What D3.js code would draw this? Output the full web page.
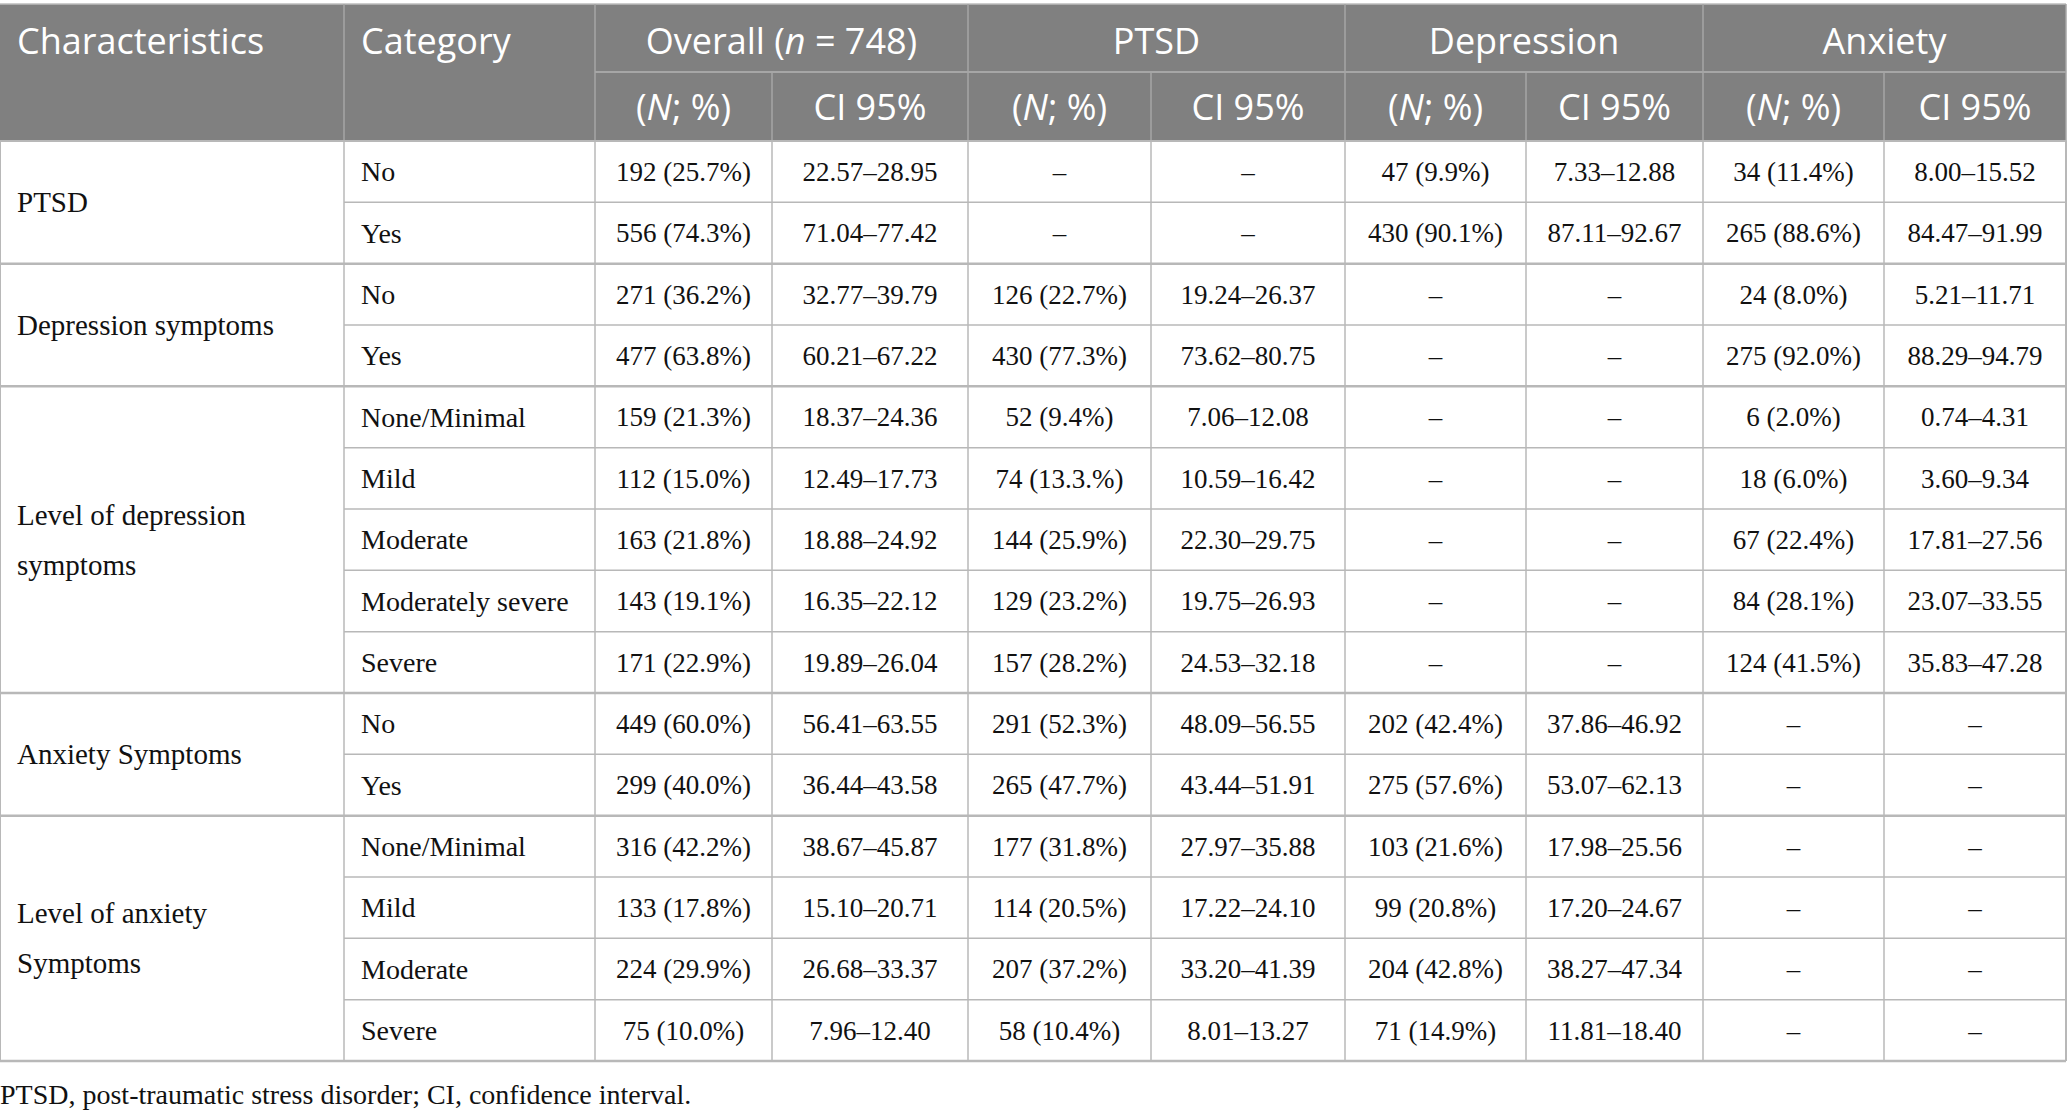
<!DOCTYPE html>
<html>
<head>
<meta charset="utf-8">
<script src="https://cdn.jsdelivr.net/npm/d3@7"></script>
<style>
  html, body { margin: 0; padding: 0; background: #fff; }
  svg { display: block; }
</style>
</head>
<body>
<div id="table"></div>
<script>
// table content
const groupLabels = [
  ["PTSD"],
  ["Depression symptoms"],
  ["Level of depression", "symptoms"],
  ["Anxiety Symptoms"],
  ["Level of anxiety", "Symptoms"]
];
const groupSizes = [2, 2, 5, 2, 4];
const categories = [
  "No", "Yes",
  "No", "Yes",
  "None/Minimal", "Mild", "Moderate", "Moderately severe", "Severe",
  "No", "Yes",
  "None/Minimal", "Mild", "Moderate", "Severe"
];
const overallN = ["192 (25.7%)", "556 (74.3%)", "271 (36.2%)", "477 (63.8%)", "159 (21.3%)", "112 (15.0%)", "163 (21.8%)", "143 (19.1%)", "171 (22.9%)", "449 (60.0%)", "299 (40.0%)", "316 (42.2%)", "133 (17.8%)", "224 (29.9%)", "75 (10.0%)"];
const overallCI = ["22.57–28.95", "71.04–77.42", "32.77–39.79", "60.21–67.22", "18.37–24.36", "12.49–17.73", "18.88–24.92", "16.35–22.12", "19.89–26.04", "56.41–63.55", "36.44–43.58", "38.67–45.87", "15.10–20.71", "26.68–33.37", "7.96–12.40"];
const ptsdN = ["–", "–", "126 (22.7%)", "430 (77.3%)", "52 (9.4%)", "74 (13.3.%)", "144 (25.9%)", "129 (23.2%)", "157 (28.2%)", "291 (52.3%)", "265 (47.7%)", "177 (31.8%)", "114 (20.5%)", "207 (37.2%)", "58 (10.4%)"];
const ptsdCI = ["–", "–", "19.24–26.37", "73.62–80.75", "7.06–12.08", "10.59–16.42", "22.30–29.75", "19.75–26.93", "24.53–32.18", "48.09–56.55", "43.44–51.91", "27.97–35.88", "17.22–24.10", "33.20–41.39", "8.01–13.27"];
const depN = ["47 (9.9%)", "430 (90.1%)", "–", "–", "–", "–", "–", "–", "–", "202 (42.4%)", "275 (57.6%)", "103 (21.6%)", "99 (20.8%)", "204 (42.8%)", "71 (14.9%)"];
const depCI = ["7.33–12.88", "87.11–92.67", "–", "–", "–", "–", "–", "–", "–", "37.86–46.92", "53.07–62.13", "17.98–25.56", "17.20–24.67", "38.27–47.34", "11.81–18.40"];
const anxN = ["34 (11.4%)", "265 (88.6%)", "24 (8.0%)", "275 (92.0%)", "6 (2.0%)", "18 (6.0%)", "67 (22.4%)", "84 (28.1%)", "124 (41.5%)", "–", "–", "–", "–", "–", "–"];
const anxCI = ["8.00–15.52", "84.47–91.99", "5.21–11.71", "88.29–94.79", "0.74–4.31", "3.60–9.34", "17.81–27.56", "23.07–33.55", "35.83–47.28", "–", "–", "–", "–", "–", "–"];
const groupHeaders = ["Overall", "PTSD", "Depression", "Anxiety"];
const subHeaders = ["(N; %)", "CI 95%"];
const footnote = "PTSD, post-traumatic stress disorder; CI, confidence interval.";

const width = 2067, height = 1114;
const headTop = 4, headMid = 72, headBottom = 141, bodyBottom = 1061;
const colEdges = [0, 344, 595, 772, 968, 1151, 1345, 1526, 1703, 1884, 2066];
const gridColor = "#b8b8b8";
const headLine = "#a6a6a6";
const sansFont = "'Open Sans', 'Noto Sans', sans-serif";
const serifFont = "'Liberation Serif', 'DejaVu Serif', serif";

const valueCols = [overallN, overallCI, ptsdN, ptsdCI, depN, depCI, anxN, anxCI];

const svg = d3.select("#table").append("svg")
  .attr("width", width)
  .attr("height", height);

const y = d3.scaleBand()
  .domain(d3.range(categories.length))
  .range([headBottom, bodyBottom]);

const colX = d3.scaleOrdinal()
  .domain(d3.range(colEdges.length))
  .range(colEdges);

// header background
svg.append("rect")
  .attr("x", 0).attr("y", headTop)
  .attr("width", colEdges[10]).attr("height", headBottom - headTop)
  .attr("fill", "#808080");

svg.append("line")
  .attr("x1", 0).attr("x2", colEdges[10])
  .attr("y1", headTop).attr("y2", headTop)
  .attr("stroke", "#bdbdbd").attr("stroke-width", 1.5);

// header lines
svg.append("line")
  .attr("x1", colEdges[2]).attr("x2", colEdges[10])
  .attr("y1", headMid).attr("y2", headMid)
  .attr("stroke", headLine).attr("stroke-width", 2);

[1, 2, 4, 6, 8, 10].forEach(i => {
  svg.append("line")
    .attr("x1", colX(i)).attr("x2", colX(i))
    .attr("y1", headTop).attr("y2", headBottom)
    .attr("stroke", headLine).attr("stroke-width", 1.5);
});
[3, 5, 7, 9].forEach(i => {
  svg.append("line")
    .attr("x1", colX(i)).attr("x2", colX(i))
    .attr("y1", headMid).attr("y2", headBottom)
    .attr("stroke", headLine).attr("stroke-width", 1.5);
});

const head = svg.append("g")
  .attr("font-family", sansFont)
  .attr("font-size", 36)
  .attr("fill", "#fff");

const row1Y = (headTop + headMid) / 2 + 3;
const row2Y = (headMid + headBottom) / 2 + 1;

head.append("text").attr("x", colX(0) + 17).attr("y", row1Y).attr("dy", "0.35em").text("Characteristics");
head.append("text").attr("x", colX(1) + 17).attr("y", row1Y).attr("dy", "0.35em").text("Category");

groupHeaders.forEach((g, i) => {
  const t = head.append("text")
    .attr("x", (colX(2 + i * 2) + colX(4 + i * 2)) / 2)
    .attr("y", row1Y).attr("dy", "0.35em")
    .attr("text-anchor", "middle");
  if (i === 0) {
    t.append("tspan").text(g + " (");
    t.append("tspan").attr("font-style", "italic").text("n");
    t.append("tspan").text(" = 748)");
  } else {
    t.text(g);
  }
});

d3.range(8).forEach(j => {
  const t = head.append("text")
    .attr("x", (colX(2 + j) + colX(3 + j)) / 2)
    .attr("y", row2Y).attr("dy", "0.35em")
    .attr("text-anchor", "middle");
  if (j % 2 === 0) {
    t.append("tspan").text("(");
    t.append("tspan").attr("font-style", "italic").text("N");
    t.append("tspan").text("; %)");
  } else {
    t.text(subHeaders[1]);
  }
});

// body grid
const groupStarts = groupSizes.map((s, i) => d3.sum(groupSizes.slice(0, i)));
const grid = svg.append("g").attr("stroke", gridColor);

categories.forEach((c, i) => {
  if (i === 0) return;
  const isGroup = groupStarts.includes(i);
  grid.append("line")
    .attr("x1", isGroup ? 0 : colX(1)).attr("x2", colX(10))
    .attr("y1", y(i)).attr("y2", y(i))
    .attr("stroke-width", isGroup ? 2.5 : 1.5);
});
grid.append("line")
  .attr("x1", 0).attr("x2", colX(10))
  .attr("y1", bodyBottom).attr("y2", bodyBottom)
  .attr("stroke-width", 2.5);
d3.range(11).forEach(i => {
  grid.append("line")
    .attr("x1", colX(i)).attr("x2", colX(i))
    .attr("y1", headBottom).attr("y2", bodyBottom)
    .attr("stroke-width", i === 0 || i === 10 ? 2 : 1.5);
});
grid.append("line")
  .attr("x1", 0).attr("x2", colX(10))
  .attr("y1", headBottom).attr("y2", headBottom)
  .attr("stroke-width", 2);

const body = svg.append("g")
  .attr("font-family", serifFont)
  .attr("fill", "#111");

// characteristics column
groupLabels.forEach((lines, gi) => {
  const top = y(groupStarts[gi]);
  const bottom = y(groupStarts[gi] + groupSizes[gi] - 1) + y.bandwidth();
  const mid = (top + bottom) / 2;
  const lh = 50;
  lines.forEach((ln, k) => {
    body.append("text")
      .attr("x", colX(0) + 17)
      .attr("y", mid + (k - (lines.length - 1) / 2) * lh)
      .attr("dy", "0.35em")
      .attr("font-size", 29)
      .text(ln);
  });
});

body.selectAll("text.cat")
  .data(categories)
  .join("text")
  .attr("class", "cat")
  .attr("x", colX(1) + 17)
  .attr("y", (d, i) => y(i) + y.bandwidth() / 2)
  .attr("dy", "0.35em")
  .attr("font-size", 28)
  .text(d => d);

valueCols.forEach((col, j) => {
  body.selectAll("text.v" + j)
    .data(col)
    .join("text")
    .attr("class", "v" + j)
    .attr("x", (colX(2 + j) + colX(3 + j)) / 2)
    .attr("y", (d, i) => y(i) + y.bandwidth() / 2)
    .attr("dy", "0.35em")
    .attr("text-anchor", "middle")
    .attr("font-size", 27)
    .text(d => d);
});

svg.append("text")
  .attr("x", 0)
  .attr("y", 1094)
  .attr("dy", "0.35em")
  .attr("font-family", serifFont)
  .attr("font-size", 28)
  .attr("fill", "#111")
  .text(footnote);
</script>
</body>
</html>
